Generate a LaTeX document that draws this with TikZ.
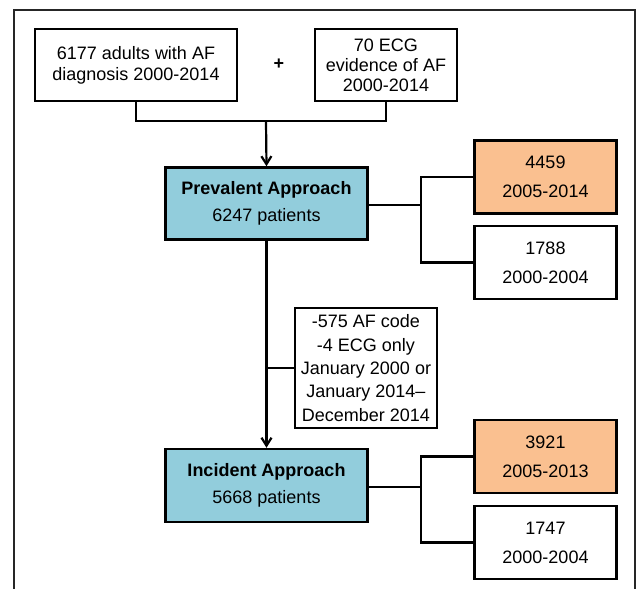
\documentclass[tikz,border=0pt]{standalone}
\usepackage{fontspec}
\setmainfont{Liberation Sans}
\usetikzlibrary{arrows.meta}

\begin{document}
\begin{tikzpicture}[x=1pt, y=-1pt, line width=2.5pt, font=\fontsize{18}{21}\selectfont]
	\definecolor{approachblue}{HTML}{92CDDC}
	\definecolor{periodorange}{HTML}{FAC090}
	\tikzset{
		box/.style={draw, align=center, inner sep=0pt},
		source/.style={box, minimum height=72pt},
		approach/.style={box, fill=approachblue, minimum width=202pt, minimum height=72pt},
		period/.style={box, minimum width=142pt, minimum height=73pt, font=\fontsize{18}{29}\selectfont},
		link/.style={line width=2.2pt},
		arrow/.style={link, -{Straight Barb[length=8pt, width=10pt]}},
	}
	\useasboundingbox (0,0) rectangle (638,589);

	% outer frame, open at the bottom
	\draw[line width=2pt, black!85] (14,589) |- (635,9.5) -- (635,589);

	\node[source, minimum width=202pt] (adults) at (136,65) {6177 adults with AF\\diagnosis 2000-2014};
	\node[font=\fontsize{18}{21}\selectfont\bfseries] (plus) at (279,64) {+};
	\node[source, minimum width=142pt, font=\fontsize{18}{20}\selectfont] (ecg) at (386,65) {70 ECG\\evidence of AF\\2000-2014};

	\node[approach] (prevalent) at (266.5,203.5) {\textbf{Prevalent Approach}\\[6pt]6247 patients};
	\node[period, fill=periodorange] (prevnew) at (545.5,177) {4459\\2005-2014};
	\node[period] (prevold) at (545.5,262.5) {1788\\2000-2004};

	\node[box, minimum width=142pt, minimum height=120pt, font=\fontsize{18}{23.3}\selectfont] (excluded) at (366,368) {-575 AF code\\-4 ECG only\\January 2000 or\\January 2014--\\December 2014};

	\node[approach, minimum height=73pt] (incident) at (266.5,485.5) {\textbf{Incident Approach}\\[6pt]5668 patients};
	\node[period, fill=periodorange] (incnew) at (545.5,456.5) {3921\\2005-2013};
	\node[period] (incold) at (545.5,542.5) {1747\\2000-2004};

	% sources joined
	\coordinate (merge) at (266,121);
	\draw[link] (adults.south) |- (merge) -| (ecg.south);
	\draw[arrow] (merge) -- (prevalent.north);

	% split of the prevalent cohort
	\coordinate (prevsplit) at (421,205);
	\draw[link] (prevalent.east |- prevsplit) -- (prevsplit);
	\draw[link] (prevnew.west) -| (prevsplit) |- (prevold.west);

	% exclusions
	\draw[arrow] (prevalent.south) -- (incident.north);
	\draw[link] (excluded.west) -- (excluded.west -| prevalent.south);

	% split of the incident cohort
	\coordinate (incsplit) at (421,487);
	\draw[link] (incident.east |- incsplit) -- (incsplit);
	\draw[link] (incnew.west) -| (incsplit) |- (incold.west);
\end{tikzpicture}
\end{document}
